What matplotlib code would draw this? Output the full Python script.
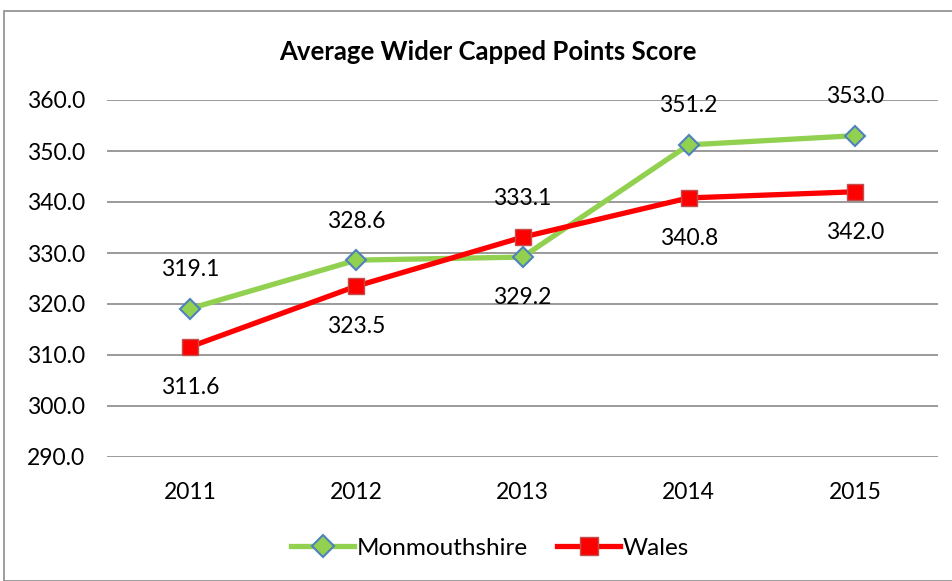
import matplotlib
matplotlib.use("Agg")
import matplotlib.pyplot as plt
from matplotlib.patches import Rectangle

years = ["2011", "2012", "2013", "2014", "2015"]
monmouthshire = [319.1, 328.6, 329.2, 351.2, 353.0]
wales = [311.6, 323.5, 333.1, 340.8, 342.0]
mon_label_pos = ["above", "above", "below", "above", "above"]
wales_label_pos = ["below", "below", "above", "below", "below"]
yticks = [290, 300, 310, 320, 330, 340, 350, 360]

plt.rcParams['font.family'] = ['Lato', 'DejaVu Sans']

W, H = 953, 581
fig = plt.figure(figsize=(W / 100, H / 100), dpi=100)
ax = fig.add_axes([107 / W, 1 - 457 / H, (938 - 107) / W, (457 - 100) / H])

fig.patches.append(Rectangle((4 / W, 0), 1.2, 1 - 11 / H, transform=fig.transFigure,
                             fill=False, edgecolor="#8c8c8c", linewidth=1.2))

x = list(range(len(years)))
ax.plot(x, monmouthshire, color="#92D050", linewidth=3.8, marker="D", markersize=10,
        markerfacecolor="#92D050", markeredgecolor="#4F81BD", markeredgewidth=1.5,
        label="Monmouthshire", zorder=3)
ax.plot(x, wales, color="#FF0000", linewidth=3.8, marker="s", markersize=12,
        markerfacecolor="#FF0000", markeredgecolor="#C0504D", markeredgewidth=1.0,
        label="Wales", zorder=4)

for xi, v, p in zip(x, monmouthshire, mon_label_pos):
    off = 28 if p == "above" else -29
    ax.annotate(f"{v:.1f}", (xi, v), xytext=(0, off), textcoords="offset points",
                ha="center", va="center", fontsize=16.5, color="black")
for xi, v, p in zip(x, wales, wales_label_pos):
    off = 28 if p == "above" else -29
    ax.annotate(f"{v:.1f}", (xi, v), xytext=(0, off), textcoords="offset points",
                ha="center", va="center", fontsize=16.5, color="black")

ax.set_xlim(-0.5, len(years) - 0.5)
ax.set_ylim(290, 360)
ax.set_xticks(x)
ax.set_xticklabels(years)
ax.set_yticks(yticks)
ax.set_yticklabels([f"{t:.1f}" for t in yticks])
ax.tick_params(axis="both", length=0, labelsize=16.5, colors="black")
ax.tick_params(axis="x", pad=18)
ax.tick_params(axis="y", pad=16)
ax.grid(axis="y", color="#898989", linewidth=1.2)
ax.set_axisbelow(True)
for s in ax.spines.values():
    s.set_visible(False)

fig.text(488 / W, 1 - 52 / H, "Average Wider Capped Points Score", ha="center", va="center",
         fontsize=18.5, fontweight="bold")

fig.legend(loc="center", bbox_to_anchor=(490 / W, 1 - 548 / H), ncol=2, frameon=False,
           fontsize=17.5, handlelength=2.6, columnspacing=1.2, handletextpad=0.1,
           markerscale=1.1)

fig.savefig("out.png", dpi=100, facecolor="white")
